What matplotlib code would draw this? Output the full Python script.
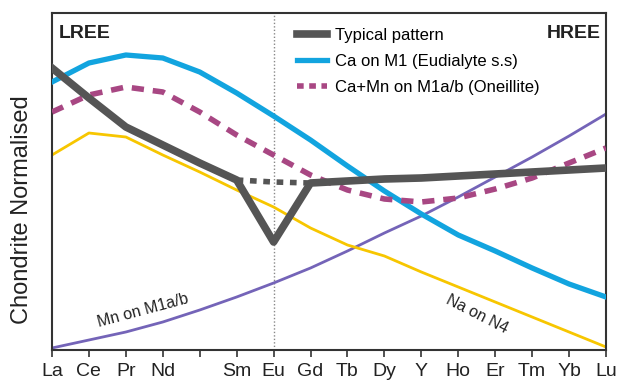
import matplotlib.pyplot as plt
from matplotlib.lines import Line2D

plt.rcParams['font.family'] = ['Liberation Sans', 'DejaVu Sans']

# REE positions (Pm kept as an empty slot)
elements = ['La', 'Ce', 'Pr', 'Nd', '', 'Sm', 'Eu', 'Gd', 'Tb', 'Dy', 'Y', 'Ho', 'Er', 'Tm', 'Yb', 'Lu']
xpos = list(range(len(elements)))

# chondrite normalised patterns (arbitrary units)
typical = [282, 252, 223, 205, 187, 170, 108, 167, 169, 171, 172, 174, 176, 178, 180, 182]
typical_dot_x = [5, 6, 7]
typical_dot = [170, 168, 167]
ca_m1 = [268, 287, 295, 292, 278, 257, 234, 210, 184, 159, 136, 115, 99, 82, 66, 53]
camn_m1ab = [238, 255, 263, 258, 238, 215, 195, 175, 160, 151, 148, 152, 161, 172, 187, 202]
na_n4 = [195, 217, 213, 195, 178, 160, 143, 122, 105, 94, 78, 63, 48, 33, 18, 3]
mn_m1ab = [2, 10, 18, 28, 40, 53, 67, 82, 99, 117, 134, 153, 173, 193, 214, 236]

c_gray = '#555555'
c_blue = '#12a4df'
c_pink = '#a84783'
c_yellow = '#f7c600'
c_purple = '#7464b8'

fig = plt.figure(figsize=(6.2, 3.82), dpi=100)
ax = fig.add_axes([52/620, 1-350/382, 554/620, 337/382])

ax.axvline(6, color='#888888', lw=1.0, ls=(0, (1, 1.5)), zorder=1)

ax.plot(xpos, mn_m1ab, color=c_purple, lw=2.0, zorder=2, solid_joinstyle='round')
ax.plot(xpos, na_n4, color=c_yellow, lw=2.0, zorder=2, solid_joinstyle='round')
ax.plot(xpos, ca_m1, color=c_blue, lw=3.8, zorder=3, solid_joinstyle='round')
ax.plot(xpos, camn_m1ab, color=c_pink, lw=4.0, ls=(0, (2.2, 1.6)), zorder=3)
ax.plot(typical_dot_x, typical_dot, color=c_gray, lw=4.0, ls=(0, (1.2, 1.2)), zorder=4)
ax.plot(xpos, typical, color=c_gray, lw=5.5, zorder=5, solid_joinstyle='round')

ax.set_xlim(0, 15)
ax.set_ylim(0, 337)
ax.set_xticks(xpos)
ax.set_xticklabels(elements, fontsize=14, color='#222222')
ax.set_yticks([])
ax.tick_params(axis='x', direction='out', length=5, width=1.2, color='#333333', pad=4)
for s in ax.spines.values():
    s.set_color('#333333')
    s.set_linewidth(1.5)

fig.text(22/620, 1-210/382, 'Chondrite Normalised', fontsize=17, color='#222222',
         rotation=90, ha='center', va='center')

ax.text(0.012, 0.94, 'LREE', transform=ax.transAxes, fontsize=14, fontweight='bold',
        color='#222222', ha='left', va='center')
ax.text(0.99, 0.94, 'HREE', transform=ax.transAxes, fontsize=14, fontweight='bold',
        color='#222222', ha='right', va='center')

ax.text(2.46, 39, 'Mn on M1a/b', fontsize=11.5, rotation=15, ha='center', va='center', color='#222222')
ax.text(11.5, 36, 'Na on N4', fontsize=11.5, rotation=-27, ha='center', va='center', color='#222222')

handles = [Line2D([], [], color=c_gray, lw=5.5),
           Line2D([], [], color=c_blue, lw=3.8),
           Line2D([], [], color=c_pink, lw=4.0, ls=(0, (1.2, 1.0)))]
labels = ['Typical pattern', 'Ca on M1 (Eudialyte s.s)', 'Ca+Mn on M1a/b (Oneillite)']
ax.legend(handles, labels, loc='upper left', bbox_to_anchor=(0.443, 0.955), frameon=False,
          fontsize=12, handlelength=1.8, handletextpad=0.45, labelspacing=0.65,
          borderpad=0, borderaxespad=0)

fig.savefig('out.png', dpi=100)
